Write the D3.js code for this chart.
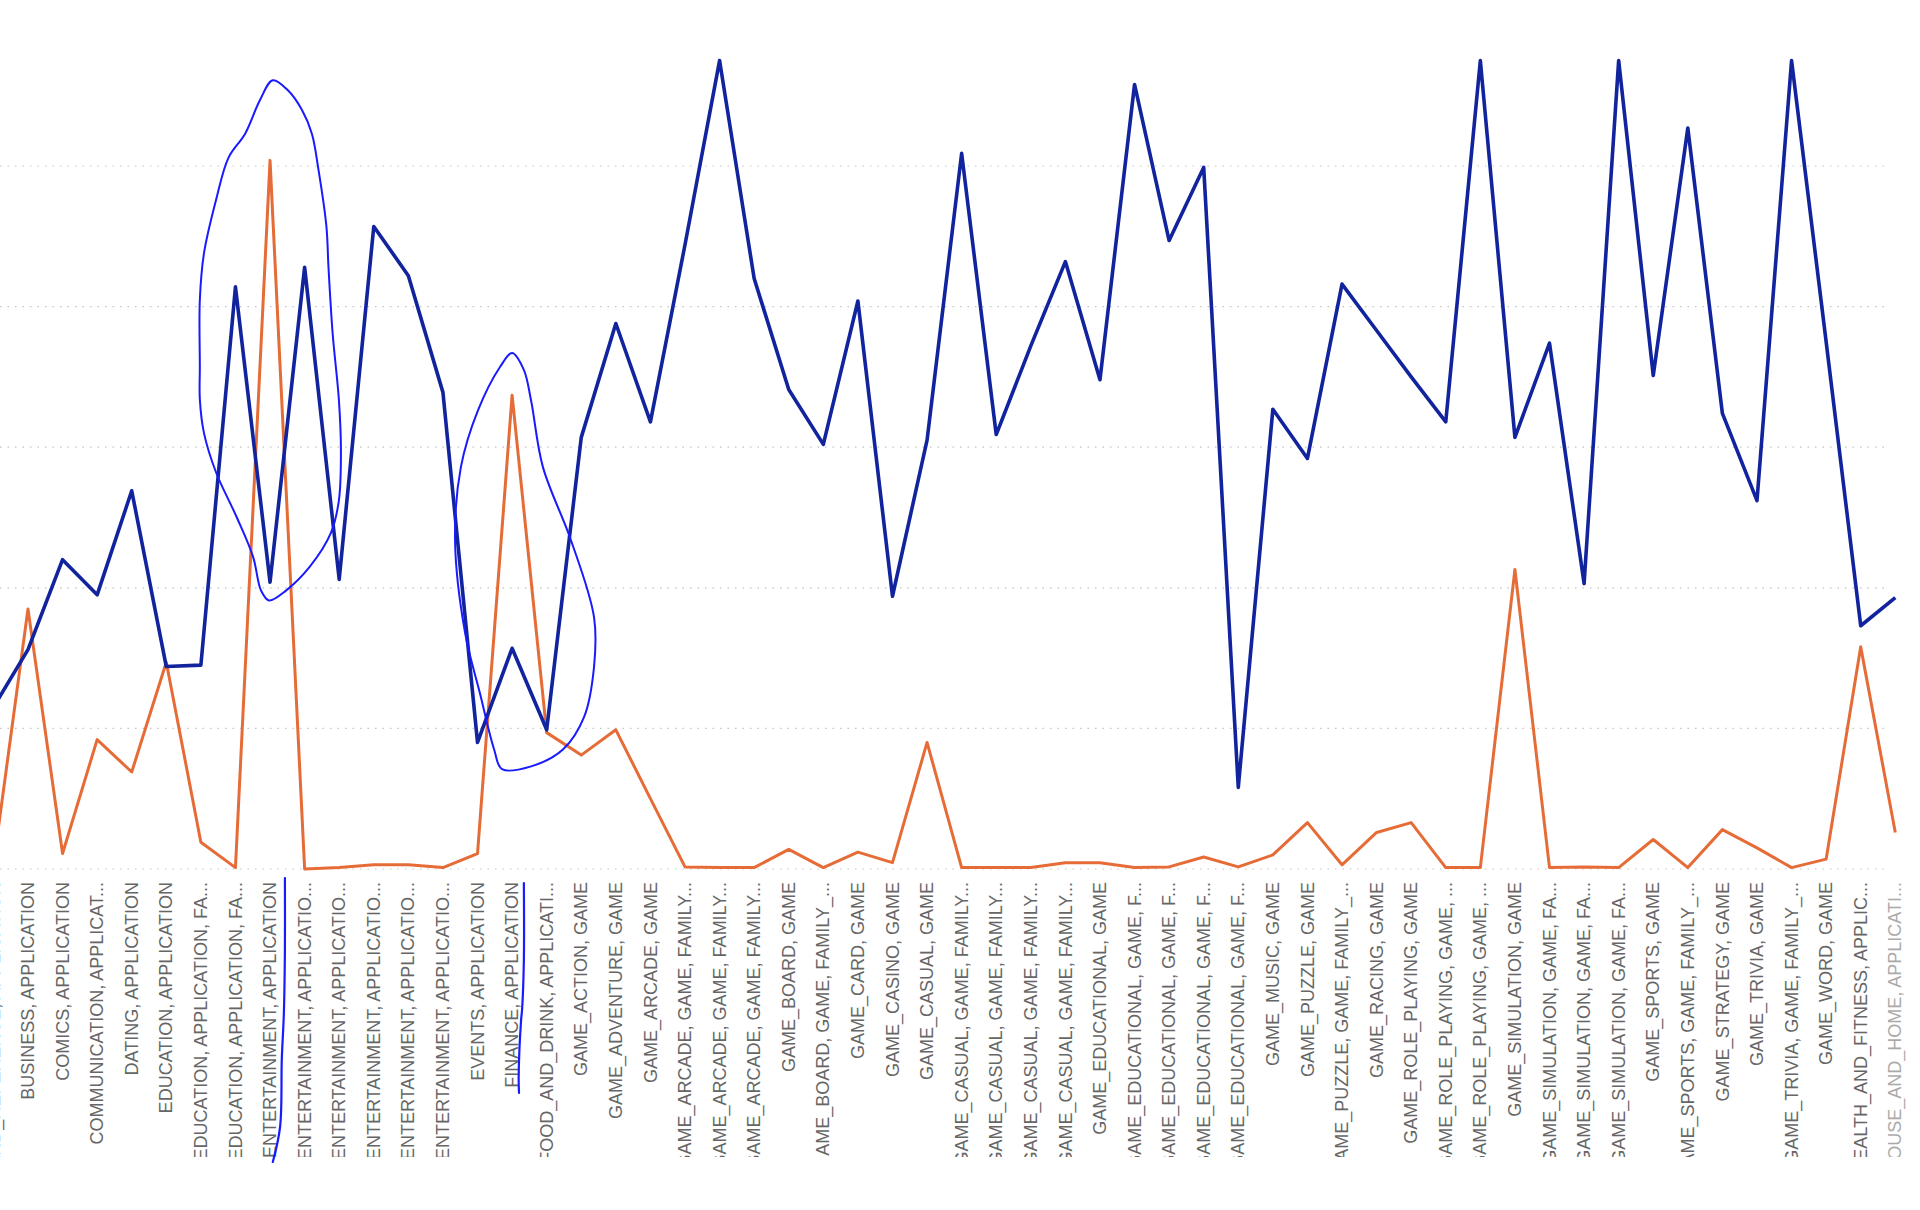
<!DOCTYPE html>
<html>
<head>
<meta charset="utf-8">
<script src="https://cdnjs.cloudflare.com/ajax/libs/d3/7.8.5/d3.min.js"></script>
<style>
  body { margin: 0; background: #fff; }
  .label { font-family: "Liberation Sans", Arial, sans-serif; font-size: 18px; fill: #666; }
</style>
</head>
<body>
<div class="chart"></div>
<script>
// categories on the x axis (first one sits just off the left edge)
var categories = [
  "BOOKS_AND_REFERENCE, APPLICATION",
  "BUSINESS, APPLICATION", "COMICS, APPLICATION", "COMMUNICATION, APPLICAT...",
  "DATING, APPLICATION", "EDUCATION, APPLICATION",
  "EDUCATION, APPLICATION, FA...", "EDUCATION, APPLICATION, FA...",
  "ENTERTAINMENT, APPLICATION",
  "ENTERTAINMENT, APPLICATIO...", "ENTERTAINMENT, APPLICATIO...", "ENTERTAINMENT, APPLICATIO...",
  "ENTERTAINMENT, APPLICATIO...", "ENTERTAINMENT, APPLICATIO...",
  "EVENTS, APPLICATION", "FINANCE, APPLICATION", "FOOD_AND_DRINK, APPLICATI...",
  "GAME_ACTION, GAME", "GAME_ADVENTURE, GAME", "GAME_ARCADE, GAME",
  "GAME_ARCADE, GAME, FAMILY...", "GAME_ARCADE, GAME, FAMILY...", "GAME_ARCADE, GAME, FAMILY...",
  "GAME_BOARD, GAME", "GAME_BOARD, GAME, FAMILY_...", "GAME_CARD, GAME", "GAME_CASINO, GAME",
  "GAME_CASUAL, GAME",
  "GAME_CASUAL, GAME, FAMILY...", "GAME_CASUAL, GAME, FAMILY...", "GAME_CASUAL, GAME, FAMILY...",
  "GAME_CASUAL, GAME, FAMILY...",
  "GAME_EDUCATIONAL, GAME",
  "GAME_EDUCATIONAL, GAME, F...", "GAME_EDUCATIONAL, GAME, F...", "GAME_EDUCATIONAL, GAME, F...",
  "GAME_EDUCATIONAL, GAME, F...",
  "GAME_MUSIC, GAME", "GAME_PUZZLE, GAME", "GAME_PUZZLE, GAME, FAMILY_...", "GAME_RACING, GAME",
  "GAME_ROLE_PLAYING, GAME", "GAME_ROLE_PLAYING, GAME, ...", "GAME_ROLE_PLAYING, GAME, ...",
  "GAME_SIMULATION, GAME",
  "GAME_SIMULATION, GAME, FA...", "GAME_SIMULATION, GAME, FA...", "GAME_SIMULATION, GAME, FA...",
  "GAME_SPORTS, GAME", "GAME_SPORTS, GAME, FAMILY_...", "GAME_STRATEGY, GAME",
  "GAME_TRIVIA, GAME", "GAME_TRIVIA, GAME, FAMILY_...", "GAME_WORD, GAME",
  "HEALTH_AND_FITNESS, APPLIC...", "HOUSE_AND_HOME, APPLICATI..."
];

// dark blue series
var blueValues = [
  11.5, 15.6, 22.0, 19.5, 26.9, 14.4, 14.5, 41.4, 20.4, 42.8,
  20.6, 45.7, 42.2, 33.9, 9.0, 15.7, 9.9, 30.7, 38.8, 31.8,
  44.4, 57.5, 42.0, 34.1, 30.2, 40.4, 19.4, 30.5, 50.9, 30.9,
  37.2, 43.2, 34.8, 55.8, 44.7, 49.9, 5.8, 32.7, 29.2, 41.6,
  38.3, 35.0, 31.8, 57.5, 30.7, 37.4, 20.3, 57.5, 35.1, 52.7,
  32.4, 26.2, 57.5, 37.5, 17.3, 19.3
];

// orange series
var orangeValues = [
  0.3, 18.5, 1.1, 9.2, 6.9, 14.7, 1.9, 0.1, 50.4, 0.0,
  0.1, 0.3, 0.3, 0.1, 1.1, 33.7, 9.7, 8.1, 9.9, 5.0,
  0.15, 0.1, 0.1, 1.4, 0.1, 1.2, 0.45, 9.0, 0.1, 0.1,
  0.1, 0.45, 0.45, 0.1, 0.15, 0.85, 0.15, 1.0, 3.3, 0.3,
  2.6, 3.3, 0.1, 0.1, 21.3, 0.1, 0.15, 0.1, 2.1, 0.1,
  2.8, 1.5, 0.1, 0.7, 15.8, 2.6
];

// gridline values
var gridValues = [0, 10, 20, 30, 40, 50];

// hand-drawn markings, as [category position, value]
var loopOne = [
  [8.08, 56.1], [8.51, 55.4], [8.92, 54.0], [9.21, 52.3], [9.39, 49.9], [9.63, 45.7],
  [9.69, 42.8], [9.81, 38.1], [9.99, 33.4], [10.05, 29.8], [9.99, 26.2], [9.76, 23.9],
  [9.15, 21.5], [8.46, 19.8], [7.97, 19.1], [7.74, 19.8], [7.51, 22.2], [7.04, 25.0],
  [6.44, 28.2], [6.09, 31.0], [5.97, 33.4], [5.97, 35.7], [5.97, 40.5], [6.09, 43.8],
  [6.44, 47.6], [6.80, 50.6], [7.28, 52.3], [7.71, 54.7]
];
var loopTwo = [
  [15.0, 36.7], [15.34, 35.5], [15.55, 33.3], [15.89, 28.6], [16.70, 23.4], [17.37, 17.9],
  [17.37, 14.4], [17.08, 10.8], [16.47, 8.5], [15.55, 7.3], [14.71, 7.1], [14.48, 8.5],
  [14.07, 12.5], [13.64, 16.8], [13.35, 23.4], [13.52, 28.6], [14.01, 32.6], [14.65, 35.7]
];
// underlines below labels: [category position, pixels below axis]
var underOne = [[8.43, 9], [8.43, 80], [8.40, 144], [8.34, 190], [8.29, 258], [8.08, 293]];
var underTwo = [[15.34, 14], [15.34, 91], [15.29, 140], [15.26, 151], [15.19, 208], [15.2, 224]];

var svgWidth = 1920;
var svgHeight = 1210;
var axisY = 869;

var svg = d3.select(".chart")
    .append("svg")
    .attr("width", svgWidth)
    .attr("height", svgHeight);

var xScale = d3.scaleLinear()
    .domain([0, categories.length - 1])
    .range([-6.6, 1895.3]);

var yScale = d3.scaleLinear()
    .domain([0, 50])
    .range([axisY, 166]);

// dotted gridlines
svg.append("g")
  .selectAll("line")
  .data(gridValues)
  .enter()
  .append("line")
    .attr("x1", 0)
    .attr("x2", 1890)
    .attr("y1", d => yScale(d))
    .attr("y2", d => yScale(d))
    .attr("stroke", "#c4c4c4")
    .attr("stroke-width", 1.2)
    .attr("stroke-dasharray", "1.5,6");

// x labels, clipped at the bottom like the screenshot
svg.append("clipPath")
    .attr("id", "labelClip")
  .append("rect")
    .attr("x", 0).attr("y", axisY)
    .attr("width", svgWidth).attr("height", 1157 - axisY);

svg.append("g")
    .attr("clip-path", "url(#labelClip)")
  .selectAll("text")
  .data(categories)
  .enter()
  .append("text")
    .attr("class", "label")
    .attr("transform", (d, i) => `translate(${xScale(i)}, ${axisY + 13}) rotate(-90)`)
    .attr("text-anchor", "end")
    .attr("dy", "0.34em")
    .attr("opacity", (d, i) => i == categories.length - 1 ? 0.55 : 1)
    .text(d => d);

// series lines
var line = d3.line()
    .x((d, i) => xScale(i))
    .y(d => yScale(d));

svg.append("path")
    .datum(orangeValues)
    .attr("fill", "none")
    .attr("stroke", "#E66C37")
    .attr("stroke-width", 3)
    .attr("stroke-linejoin", "round")
    .attr("d", line);

svg.append("path")
    .datum(blueValues)
    .attr("fill", "none")
    .attr("stroke", "#12239E")
    .attr("stroke-width", 3.6)
    .attr("stroke-linejoin", "round")
    .attr("d", line);

// hand-drawn loops and underlines
var loop = d3.line()
    .x(d => xScale(d[0]))
    .y(d => yScale(d[1]))
    .curve(d3.curveCatmullRomClosed);

[loopOne, loopTwo].forEach(function (pts) {
  svg.append("path")
      .datum(pts)
      .attr("fill", "none")
      .attr("stroke", "#1a1aff")
      .attr("stroke-width", 2)
      .attr("d", loop);
});

var mark = d3.line()
    .x(d => xScale(d[0]))
    .y(d => axisY + d[1])
    .curve(d3.curveCatmullRom);

[underOne, underTwo].forEach(function (pts) {
  svg.append("path")
      .datum(pts)
      .attr("fill", "none")
      .attr("stroke", "#1a1aff")
      .attr("stroke-width", 2.2)
      .attr("stroke-linecap", "round")
      .attr("d", mark);
});
</script>
</body>
</html>
